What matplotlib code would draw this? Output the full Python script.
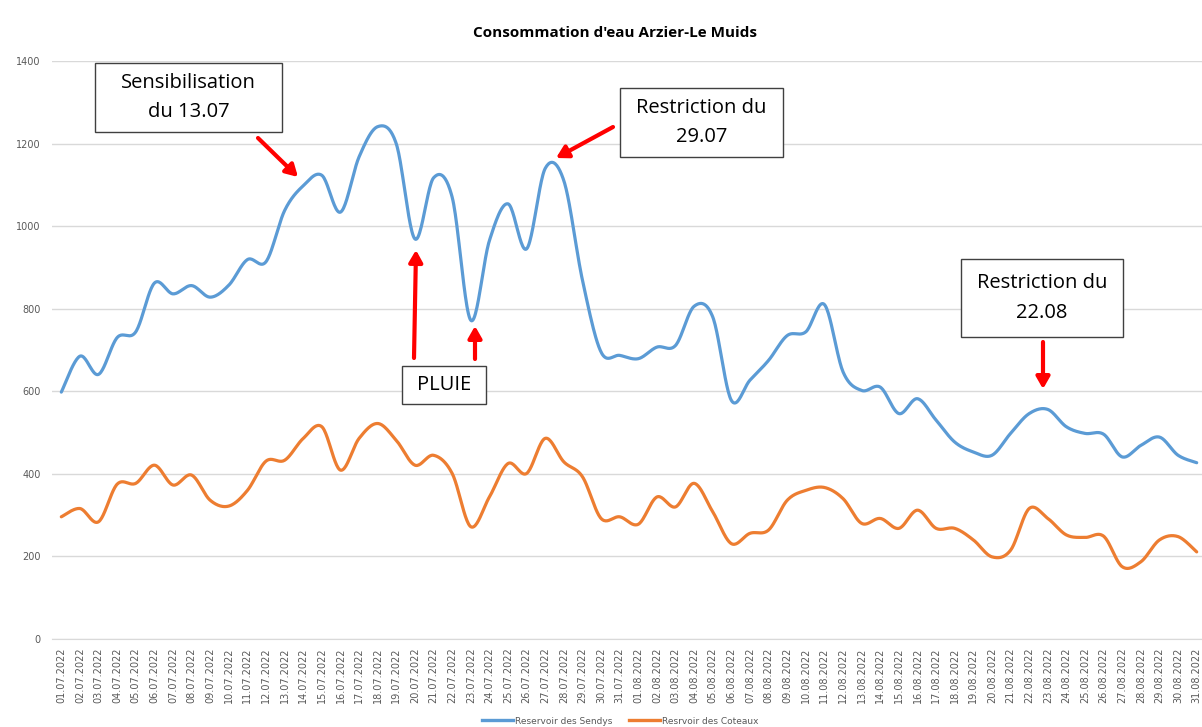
import numpy as np
import matplotlib
matplotlib.use("Agg")
import matplotlib.pyplot as plt
from matplotlib.lines import Line2D

# ---------------- data ----------------
dates_jul = [f"{d:02d}.07.2022" for d in range(1, 32)]
dates_aug = [f"{d:02d}.08.2022" for d in range(1, 32)]
dates = dates_jul + dates_aug

sendys = [598, 685, 641, 730, 744, 862, 836, 856, 828, 857,
          919, 914, 1038, 1098, 1123, 1034, 1168, 1241, 1199, 969,
          1117, 1070, 772, 965, 1054, 945, 1140, 1110, 869, 695,
          687, 679, 707, 711, 806, 780, 578, 627, 675, 735,
          744, 810, 647, 602, 610, 546, 582, 530, 477, 453,
          445, 498, 546, 556, 514, 498, 496, 441, 469, 489,
          445, 427]

coteaux = [296, 316, 284, 375, 377, 421, 373, 397, 336, 322,
           360, 431, 433, 486, 514, 409, 486, 522, 481, 421,
           445, 401, 272, 344, 425, 401, 486, 429, 393, 292,
           296, 278, 344, 320, 377, 308, 231, 256, 264, 336,
           360, 367, 340, 280, 292, 268, 312, 268, 268, 240,
           199, 215, 316, 292, 252, 246, 249, 175, 187, 240,
           248, 211]

series_names = ["Reservoir des Sendys", "Resrvoir des Coteaux"]
title = "Consommation d'eau Arzier-Le Muids"
y_ticks = [0, 200, 400, 600, 800, 1000, 1200, 1400]


def smooth(y, n=24):
    """Excel-like smoothed line (Catmull-Rom Bezier) through the points."""
    y = np.asarray(y, float)
    x = np.arange(len(y), dtype=float)
    P = np.column_stack([x, y])
    P = np.vstack([P[0], P, P[-1]])
    out = []
    t = np.linspace(0, 1, n, endpoint=False)[:, None]
    for i in range(1, len(P) - 2):
        p0, p1, p2, p3 = P[i - 1], P[i], P[i + 1], P[i + 2]
        c1 = p1 + (p2 - p0) / 6.0
        c2 = p2 - (p3 - p1) / 6.0
        seg = ((1 - t) ** 3) * p1 + 3 * ((1 - t) ** 2) * t * c1 + 3 * (1 - t) * t ** 2 * c2 + t ** 3 * p2
        out.append(seg)
    out.append(P[-2][None, :])
    out = np.vstack(out)
    return out[:, 0], out[:, 1]


W, H = 1202, 727
fig = plt.figure(figsize=(W / 100, H / 100), dpi=100)
fig.patch.set_facecolor("white")

ax = fig.add_axes([52 / W, 88 / H, 1154 / W, 578 / H])
ax.set_xlim(-0.5, len(dates) - 0.5)
ax.set_ylim(0, 1400)

blue = "#5B9BD5"
orange = "#ED7D31"
for vals, col in [(sendys, blue), (coteaux, orange)]:
    xs, ys = smooth(vals)
    ax.plot(xs, ys, color=col, lw=2.3, solid_capstyle="round", zorder=3)

ax.set_yticks(y_ticks)
ax.set_yticklabels([str(v) for v in y_ticks], fontsize=7, color="#595959",
                   family="DejaVu Sans")
ax.set_xticks(range(len(dates)))
ax.set_xticklabels(dates, rotation=90, fontsize=7, color="#595959",
                   family="DejaVu Sans")
ax.tick_params(axis="both", length=0)
ax.tick_params(axis="x", pad=6)
ax.tick_params(axis="y", pad=8)
ax.grid(axis="y", color="#d9d9d9", lw=1)
ax.set_axisbelow(True)
for s in ["top", "right", "left"]:
    ax.spines[s].set_visible(False)
ax.spines["bottom"].set_color("#d9d9d9")

fig.text(615 / W, 1 - 33 / H, title, ha="center", va="center",
         fontsize=11, fontweight="bold", family="Open Sans")

# legend
handles = [Line2D([], [], color=blue, lw=2.4), Line2D([], [], color=orange, lw=2.4)]
leg = fig.legend(handles, series_names, loc="center", bbox_to_anchor=(620 / W, 1 - 721 / H),
                 ncol=2, frameon=False, fontsize=6.5, handlelength=3.5,
                 handletextpad=0.2, columnspacing=1.8)
for t in leg.get_texts():
    t.set_color("#595959")


def fx(px):
    return px / W


def fy(py):
    return 1 - py / H


def textbox(x0, y0, x1, y1, lines):
    r = plt.Rectangle((fx(x0), fy(y1)), fx(x1) - fx(x0), fy(y0) - fy(y1),
                      transform=fig.transFigure, fc="white", ec="#404040", lw=1, zorder=5)
    fig.add_artist(r)
    n = len(lines)
    cy = (y0 + y1) / 2
    step = 29
    for k, line in enumerate(lines):
        yy = cy + (k - (n - 1) / 2) * step
        fig.text(fx((x0 + x1) / 2), fy(yy), line, ha="center", va="center",
                 fontsize=14.5, family="Open Sans", color="black", zorder=6)


textbox(95, 63, 282, 132, ["Sensibilisation", "du 13.07"])
textbox(620, 88, 783, 157, ["Restriction du", "29.07"])
textbox(961, 259, 1123, 337, ["Restriction du", "22.08"])
textbox(402, 366, 486, 404, ["PLUIE"])


def arrow(x0, y0, x1, y1):
    fig.add_artist(matplotlib.patches.FancyArrowPatch(
        (fx(x0), fy(y0)), (fx(x1), fy(y1)), transform=fig.transFigure,
        arrowstyle="-|>,head_length=7,head_width=4", mutation_scale=1,
        color="#FF0000", lw=3, zorder=7, shrinkA=0, shrinkB=0))


arrow(258, 138, 298, 177)
arrow(613, 127, 556, 158)
arrow(1043, 342, 1043, 389)
arrow(414, 358, 416, 250)
arrow(475, 359, 475, 326)

fig.savefig("out.png", dpi=100)
